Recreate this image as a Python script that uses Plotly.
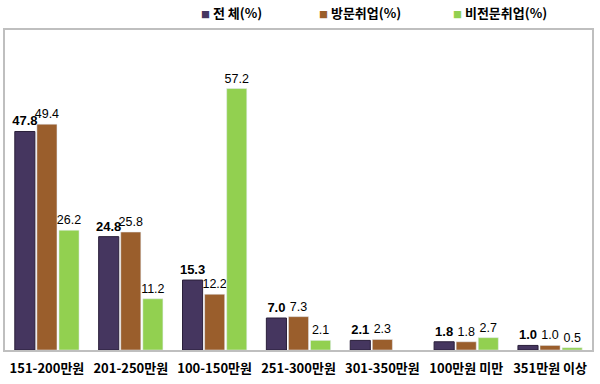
import plotly.graph_objects as go

categories = ["151-200만원", "201-250만원", "100-150만원", "251-300만원",
              "301-350만원", "100만원 미만", "351만원 이상"]
total = [47.8, 24.8, 15.3, 7.0, 2.1, 1.8, 1.0]
visit = [49.4, 25.8, 12.2, 7.3, 2.3, 1.8, 1.0]
nonpro = [26.2, 11.2, 57.2, 2.1, None, 2.7, 0.5]
series_names = ["전 체(%)", "방문취업(%)", "비전문취업(%)"]
colors = ["#45365F", "#9A5E2C", "#92D050"]

fig = go.Figure()
common = dict(textposition="outside", cliponaxis=False, textangle=0, constraintext="none",
              showlegend=False)
fig.add_trace(go.Bar(x=categories, y=total, name=series_names[0],
                     marker=dict(color=colors[0], line=dict(color="#2A1F3A", width=1)),
                     text=total, texttemplate="<b>%{y:.1f}</b>",
                     textfont=dict(size=13, color="#000000", family="Liberation Sans"),
                     **common))
fig.add_trace(go.Bar(x=categories, y=visit, name=series_names[1],
                     marker=dict(color=colors[1]),
                     text=visit, texttemplate="%{y:.1f}",
                     textfont=dict(size=12.5, color="#000000", family="Liberation Sans"),
                     **common))
fig.add_trace(go.Bar(x=categories, y=nonpro, name=series_names[2],
                     marker=dict(color=colors[2]),
                     text=nonpro, texttemplate="%{y:.1f}",
                     textfont=dict(size=12.5, color="#000000", family="Liberation Sans"),
                     **common))

# legend drawn as text entries across the top
legend_x = [0.3305, 0.5315, 0.7598]
for name, col, lx in zip(series_names, colors, legend_x):
    fig.add_annotation(
        x=lx, y=1.055, xref="paper", yref="paper", xanchor="left", yanchor="middle",
        showarrow=False,
        text=f'<span style="color:{col};font-size:9px">■</span> <b>{name}</b>',
        font=dict(size=13, family="Noto Sans CJK KR", color="#000000"),
    )

fig.update_layout(
    width=600, height=384,
    margin=dict(l=5, r=8, t=30, b=34, autoexpand=False),
    paper_bgcolor="white", plot_bgcolor="white",
    barmode="group", bargap=0.21, bargroupgap=0.09,
    font=dict(family="Noto Sans CJK KR", color="#000000"),
    showlegend=False,
)
fig.update_xaxes(showline=True, linecolor="#BFBFBF", linewidth=2, mirror=True,
                 tickfont=dict(size=13, family="Noto Sans CJK KR", color="#000000"),
                 ticks="", tickprefix="<b>", ticksuffix="</b>", ticklabelstandoff=5)
fig.update_yaxes(range=[0, 70], showline=True, linecolor="#BFBFBF", linewidth=2, mirror=True,
                 showgrid=False, showticklabels=False, zeroline=False)

fig.write_html("out.html", config={"displayModeBar": False},
               post_script="document.body.style.margin='0';")
